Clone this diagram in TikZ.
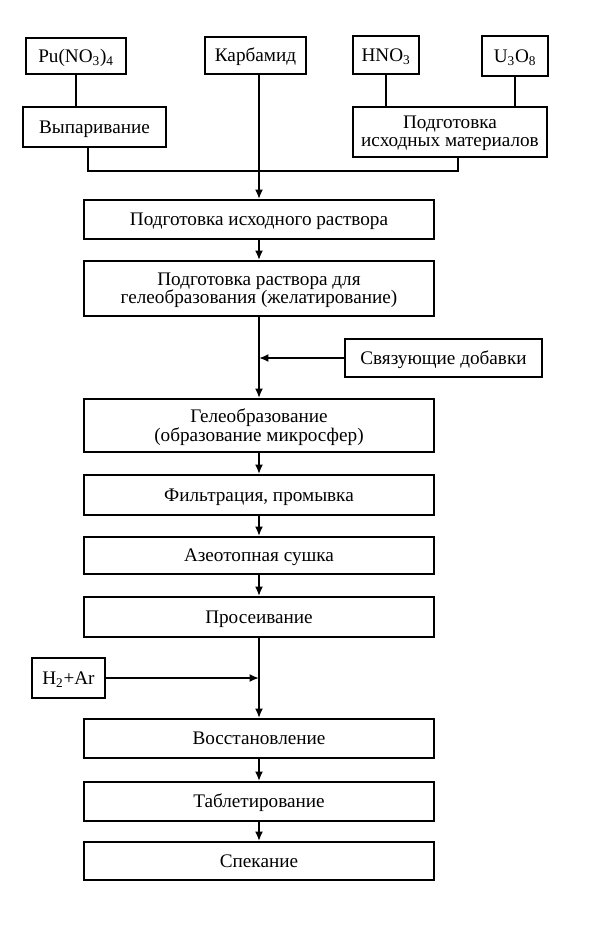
\documentclass[tikz,border=0pt]{standalone}
\usepackage{fontspec}
\setmainfont{Liberation Serif}
\usetikzlibrary{arrows.meta,fit}
\begin{document}
\begin{tikzpicture}[x=0.75pt,y=-0.75pt,
  box/.style={draw,line width=1.5pt,rectangle,inner sep=0pt},
  txt/.style={inner sep=0pt,align=center,font=\fontsize{14.4}{13.6}\selectfont},
  one/.style={txt,anchor=base,yshift=-4.8pt},
  two/.style={txt,yshift=-1.2pt},
  link/.style={line width=1.5pt},
  arr/.style={line width=1.5pt,-{Latex[length=7pt,width=6pt]}}]
\useasboundingbox (0,0) rectangle (591,925);
% inputs
\node[box,fit={(26,38) (126,74)}] (pu) {};
\node[one] (put) at (pu.center) {Pu(NO\textsubscript{3})\textsubscript{4}};
\node[box,fit={(205,37) (306,74)}] (karb) {};
\node[one] (karbt) at (karb.center) {Карбамид};
\node[box,fit={(353,36) (419,74)}] (hno) {};
\node[one] (hnot) at (hno.center) {HNO\textsubscript{3}};
\node[box,fit={(482,36) (548,76)}] (uo) {};
\node[one] (uot) at (uo.center) {U\textsubscript{3}O\textsubscript{8}};
\node[box,fit={(23,107) (166,147)}] (vyp) {};
\node[one] (vypt) at (vyp.center) {Выпаривание};
\node[box,fit={(353,107) (547,157)}] (podm) {};
\node[two] (podmt) at (podm.center) {Подготовка\\исходных материалов};
% main column
\node[box,fit={(84,200) (434,239)}] (s1) {};
\node[one] (s1t) at (s1.center) {Подготовка исходного раствора};
\node[box,fit={(84,261) (434,316)}] (s2) {};
\node[two] (s2t) at (s2.center) {Подготовка раствора для\\гелеобразования (желатирование)};
\node[box,fit={(345,339) (542,377)}] (svyaz) {};
\node[one] (svyazt) at (svyaz.center) {Связующие добавки};
\node[box,fit={(84,399) (434,452)}] (s3) {};
\node[two] (s3t) at (s3.center) {Гелеобразование\\(образование микросфер)};
\node[box,fit={(84,475) (434,515)}] (s4) {};
\node[one] (s4t) at (s4.center) {Фильтрация, промывка};
\node[box,fit={(84,537) (434,574)}] (s5) {};
\node[one] (s5t) at (s5.center) {Азеотопная сушка};
\node[box,fit={(84,597) (434,637)}] (s6) {};
\node[one] (s6t) at (s6.center) {Просеивание};
\node[box,fit={(32,658) (105,698)}] (h2) {};
\node[one] (h2t) at (h2.center) {H\textsubscript{2}+Ar};
\node[box,fit={(84,719) (434,758)}] (s7) {};
\node[one] (s7t) at (s7.center) {Восстановление};
\node[box,fit={(84,782) (434,821)}] (s8) {};
\node[one] (s8t) at (s8.center) {Таблетирование};
\node[box,fit={(84,842) (434,880)}] (s9) {};
\node[one] (s9t) at (s9.center) {Спекание};
% junction coordinates
\coordinate (j1) at (88,171);
\coordinate (j2) at (458,171);
% connectors
\draw[link] (pu.south) -- (pu.south |- vyp.north);
\draw[link] (hno.south) -- (hno.south |- podm.north);
\draw[link] (uo.south) -- (uo.south |- podm.north);
\draw[link] (vyp.south -| j1) -- (j1) -- (j2) -- (podm.south -| j2);
\draw[arr] (karb.south -| s1.north) -- (s1.north);
\draw[arr] (s1) -- (s2);
\draw[arr] (s2) -- (s3);
\draw[arr] (svyaz.west) -- (svyaz.west -| s2.south);
\draw[arr] (s3) -- (s4);
\draw[arr] (s4) -- (s5);
\draw[arr] (s5) -- (s6);
\draw[arr] (s6) -- (s7);
\draw[arr] (h2.east) -- (h2.east -| s6.south);
\draw[arr] (s7) -- (s8);
\draw[arr] (s8) -- (s9);
\end{tikzpicture}
\end{document}
